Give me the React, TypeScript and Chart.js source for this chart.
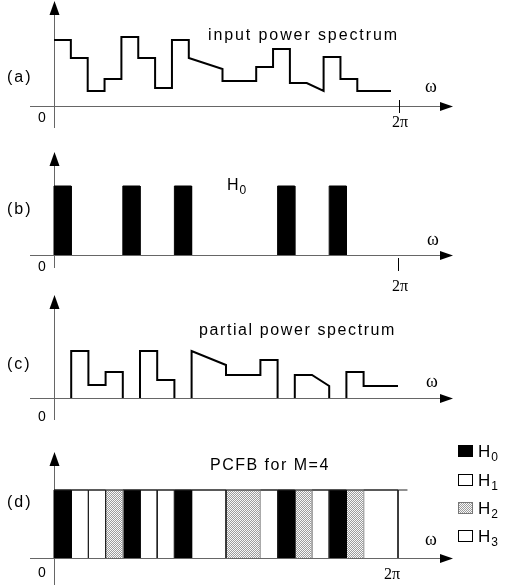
import React, { useEffect, useRef } from 'react';
import { Chart, registerables } from 'chart.js';
Chart.register(...registerables);

// ---------- data (x in band units, 0..20 = 0..2π; y in arbitrary power units) ----------
const bandEdges = [0, 1, 2, 3, 4, 5, 6, 7, 8, 10, 12, 13, 14, 15, 16, 17, 18, 20];
const inputStart = [66, 48, 15, 27, 69, 48, 18, 66, 48, 25, 39, 57, 23, 23, 49, 27, 15];
const inputEnd = [66, 48, 15, 27, 69, 48, 18, 66, 37, 25, 39, 57, 23, 15, 49, 27, 15];
const partialStart = [0, 47, 13, 26, 0, 47, 18, 0, 47, 23, 38, 0, 23, 23, 0, 26, 12];
const partialEnd = [0, 47, 13, 26, 0, 47, 18, 0, 33, 23, 38, 0, 23, 12, 0, 26, 12];
const bandFilter = ['H0', 'H1', 'H3', 'H2', 'H0', 'H1', 'H3', 'H0', 'H1', 'H2', 'H1', 'H0', 'H2', 'H3', 'H0', 'H2', 'H3'];
const h0Height = 69;
const pcfbHeight = 68;
const pcfbTopLine = [0, 20.55];
const legendFilters = ['H0', 'H1', 'H2', 'H3'];
const twoPiA = 20.47;
const twoPiB = 20;

const SANS = '"Liberation Sans", Arial, Helvetica, sans-serif';
const SERIF = '"Liberation Serif", "Times New Roman", serif';

function makeStipple(): CanvasPattern | string {
  const c = document.createElement('canvas');
  c.width = 2; c.height = 2;
  const g = c.getContext('2d');
  if (!g) return '#c8c8c8';
  g.fillStyle = '#f8f8f8'; g.fillRect(0, 0, 2, 2);
  g.fillStyle = '#9c9c9c'; g.fillRect(0, 0, 1, 1); g.fillRect(1, 1, 1, 1);
  return g.createPattern(c, 'repeat') || '#c8c8c8';
}

const lineDs = (data: any[]) => ({
  type: 'line', data, borderColor: '#000', borderWidth: 2, pointRadius: 0, fill: false,
  tension: 0, clip: false, borderJoinStyle: 'miter', spanGaps: false,
});

function inputDatasets() {
  const pts: any[] = [];
  for (let i = 0; i < inputStart.length; i++) {
    pts.push({ x: bandEdges[i], y: inputStart[i] }, { x: bandEdges[i + 1], y: inputEnd[i] });
  }
  return [lineDs(pts)];
}

function h0Datasets() {
  const out: any[] = [];
  bandFilter.forEach((f, i) => {
    if (f !== 'H0') return;
    const s = bandEdges[i], e = bandEdges[i + 1];
    out.push({
      type: 'line', data: [{ x: s, y: 0 }, { x: s, y: h0Height }, { x: e, y: h0Height }, { x: e, y: 0 }],
      borderColor: '#000', borderWidth: 1, backgroundColor: '#000', fill: 'origin', pointRadius: 0, tension: 0, clip: false,
    });
  });
  return out;
}

function partialDatasets() {
  const out: any[] = [];
  let cur: any[] | null = null;
  for (let i = 0; i < bandFilter.length; i++) {
    if (bandFilter[i] === 'H0') continue;
    const s = bandEdges[i], e = bandEdges[i + 1];
    if (!cur) { cur = [{ x: s, y: 0 }]; }
    cur.push({ x: s, y: partialStart[i] }, { x: e, y: partialEnd[i] });
    const last = i === bandFilter.length - 1;
    if (last) { out.push(lineDs(cur)); cur = null; }
    else if (bandFilter[i + 1] === 'H0') { cur.push({ x: e, y: 0 }); out.push(lineDs(cur)); cur = null; }
  }
  return out;
}

function pcfbDatasets(stipple: any) {
  const out: any[] = [];
  out.push({
    type: 'line', data: [{ x: pcfbTopLine[0], y: pcfbHeight }, { x: pcfbTopLine[1], y: pcfbHeight }],
    borderColor: '#222', borderWidth: 1, pointRadius: 0, fill: false, clip: false,
  });
  bandFilter.forEach((f, i) => {
    const s = bandEdges[i], e = bandEdges[i + 1];
    const bg = f === 'H0' ? '#000' : f === 'H2' ? stipple : '#fff';
    const bc = f === 'H0' ? '#000' : f === 'H2' ? '#aaa' : '#222';
    out.push({
      type: 'line', data: [{ x: s, y: 0 }, { x: s, y: pcfbHeight }, { x: e, y: pcfbHeight }, { x: e, y: 0 }],
      borderColor: bc, borderWidth: 1, backgroundColor: bg, fill: 'origin', pointRadius: 0, tension: 0, clip: false,
    });
  });
  return out;
}

// ---------- layout of the four panels (page pixels) ----------
type Panel = {
  key: string; top: number; height: number; axisY: number; xRight: number;
  label: string; labelY: number; zeroY: number; arrowTip: number; yBottom: number;
  omega: [number, number]; tick?: { at: number; y1: number; y2: number }; twoPi?: [number, number];
};

const panels: Panel[] = [
  { key: 'a', top: 0, height: 135, axisY: 106, xRight: 391, label: '(a)', labelY: 78, zeroY: 118, arrowTip: 1, yBottom: 128,
    omega: [431, 87], tick: { at: twoPiA, y1: 100, y2: 113 }, twoPi: [400, 123] },
  { key: 'b', top: 135, height: 160, axisY: 255, xRight: 398, label: '(b)', labelY: 210, zeroY: 267, arrowTip: 152, yBottom: 268,
    omega: [433, 240], tick: { at: twoPiB, y1: 258, y2: 271 }, twoPi: [400, 287] },
  { key: 'c', top: 285, height: 140, axisY: 398, xRight: 398, label: '(c)', labelY: 365, zeroY: 417, arrowTip: 295, yBottom: 420,
    omega: [432, 382] },
  { key: 'd', top: 425, height: 160, axisY: 558, xRight: 398, label: '(d)', labelY: 503, zeroY: 573, arrowTip: 452, yBottom: 585,
    omega: [431, 540], twoPi: [392, 575] },
];

function spacedText(ctx: CanvasRenderingContext2D, t: string, x: number, y: number, font: string, ls: number) {
  ctx.font = font;
  (ctx as any).letterSpacing = ls + 'px';
  ctx.fillText(t, x, y);
  (ctx as any).letterSpacing = '0px';
}

function subText(ctx: CanvasRenderingContext2D, main: string, sub: string, x: number, base: number, size: number) {
  ctx.font = `${size}px ${SANS}`;
  ctx.textAlign = 'left';
  ctx.textBaseline = 'alphabetic';
  ctx.fillText(main, x, base);
  const w = ctx.measureText(main).width;
  ctx.font = `${Math.round(size * 0.72)}px ${SANS}`;
  ctx.fillText(sub, x + w + 1, base + 4);
}

function makeDecor(p: Panel, stipple: any) {
  return {
    id: 'decor_' + p.key,
    beforeDatasetsDraw(chart: any) {
      const ctx: CanvasRenderingContext2D = chart.ctx;
      const xs = chart.scales.x, ys = chart.scales.y;
      const x0 = Math.round(xs.getPixelForValue(0)) + 0.5;
      const y0 = Math.round(ys.getPixelForValue(0)) + 0.5;
      ctx.save();
      ctx.translate(0, -p.top);
      const X0 = x0, Y0 = y0 + p.top;
      ctx.strokeStyle = '#666';
      ctx.lineWidth = 1;
      ctx.beginPath();
      ctx.moveTo(X0, p.arrowTip + 10); ctx.lineTo(X0, p.yBottom);
      ctx.moveTo(30, Y0); ctx.lineTo(445, Y0);
      ctx.stroke();
      ctx.restore();
    },
    afterDraw(chart: any) {
      const ctx: CanvasRenderingContext2D = chart.ctx;
      const xs = chart.scales.x, ys = chart.scales.y;
      const X0 = Math.round(xs.getPixelForValue(0)) + 0.5;
      const Y0 = Math.round(ys.getPixelForValue(0)) + 0.5 + p.top;
      ctx.save();
      ctx.translate(0, -p.top);
      ctx.fillStyle = '#000';
      // y arrow head
      ctx.beginPath();
      ctx.moveTo(X0, p.arrowTip); ctx.lineTo(X0 - 5, p.arrowTip + 14); ctx.lineTo(X0 + 5, p.arrowTip + 14); ctx.closePath();
      ctx.fill();
      // x arrow head
      ctx.beginPath();
      ctx.moveTo(453, Y0); ctx.lineTo(440, Y0 - 4.5); ctx.lineTo(440, Y0 + 4.5); ctx.closePath();
      ctx.fill();
      // 2π tick
      if (p.tick) {
        const tx = Math.round(xs.getPixelForValue(p.tick.at)) + 0.5;
        ctx.strokeStyle = '#000'; ctx.lineWidth = 1;
        ctx.beginPath(); ctx.moveTo(tx, p.tick.y1); ctx.lineTo(tx, p.tick.y2); ctx.stroke();
      }
      // texts
      ctx.textBaseline = 'middle';
      ctx.textAlign = 'left';
      spacedText(ctx, p.label, 7, p.labelY, `16px ${SANS}`, 2);
      ctx.textAlign = 'center';
      ctx.font = `14px ${SANS}`;
      ctx.fillText('0', 42, p.zeroY);
      ctx.font = `18px ${SERIF}`;
      ctx.fillText('ω', p.omega[0], p.omega[1]);
      if (p.twoPi) {
        ctx.font = `16px ${SERIF}`;
        ctx.fillText('2π', p.twoPi[0], p.twoPi[1]);
      }
      ctx.textAlign = 'left';
      ctx.textBaseline = 'alphabetic';
      if (p.key === 'a') spacedText(ctx, 'input power spectrum', 208, 40, `16px ${SANS}`, 1.9);
      if (p.key === 'c') spacedText(ctx, 'partial power spectrum', 199, 335, `16px ${SANS}`, 1.6);
      if (p.key === 'b') subText(ctx, 'H', '0', 227, 190, 16);
      if (p.key === 'd') {
        spacedText(ctx, 'PCFB for M=4', 210, 470, `16px ${SANS}`, 1.5);
        const rowY = [451, 480, 508, 536];
        legendFilters.forEach((f, i) => {
          const cy = rowY[i];
          const fill = f === 'H0' ? '#000' : f === 'H2' ? stipple : '#fff';
          ctx.fillStyle = fill as any;
          ctx.fillRect(458, cy - 6, 15, 12);
          ctx.strokeStyle = f === 'H2' ? '#777' : '#000';
          ctx.lineWidth = 1;
          ctx.strokeRect(458.5, cy - 5.5, 14, 11);
          ctx.fillStyle = '#000';
          subText(ctx, f.charAt(0), f.slice(1), 478, cy + 6, 17);
        });
      }
      ctx.restore();
    },
  };
}

function datasetsFor(key: string, stipple: any) {
  if (key === 'a') return inputDatasets();
  if (key === 'b') return h0Datasets();
  if (key === 'c') return partialDatasets();
  return pcfbDatasets(stipple);
}

export default function App() {
  const refs = useRef<(HTMLCanvasElement | null)[]>([]);
  useEffect(() => {
    const stipple = makeStipple();
    const charts: Chart[] = [];
    panels.forEach((p, i) => {
      const cv = refs.current[i];
      if (!cv) return;
      const axisLocal = p.axisY - p.top;
      const chart = new Chart(cv, {
        type: 'line',
        data: { datasets: datasetsFor(p.key, stipple) as any },
        options: {
          responsive: false,
          animation: false,
          devicePixelRatio: 1,
          layout: { padding: { left: 54, right: 507 - p.xRight, top: axisLocal - 100, bottom: p.height - axisLocal } },
          scales: {
            x: { type: 'linear', min: 0, max: 20, display: false },
            y: { type: 'linear', min: 0, max: 100, display: false },
          },
          plugins: { legend: { display: false }, tooltip: { enabled: false } },
          events: [],
        },
        plugins: [makeDecor(p, stipple) as any],
      });
      charts.push(chart);
    });
    return () => { charts.forEach((c) => c.destroy()); };
  }, []);

  return (
    <div style={{ position: 'absolute', left: 0, top: 0, width: 507, height: 585, background: '#fff', overflow: 'hidden' }}>
      {panels.map((p, i) => (
        <canvas
          key={p.key}
          ref={(el) => { refs.current[i] = el; }}
          width={507}
          height={p.height}
          style={{ position: 'absolute', left: 0, top: p.top, width: 507, height: p.height, display: 'block' }}
        />
      ))}
    </div>
  );
}
